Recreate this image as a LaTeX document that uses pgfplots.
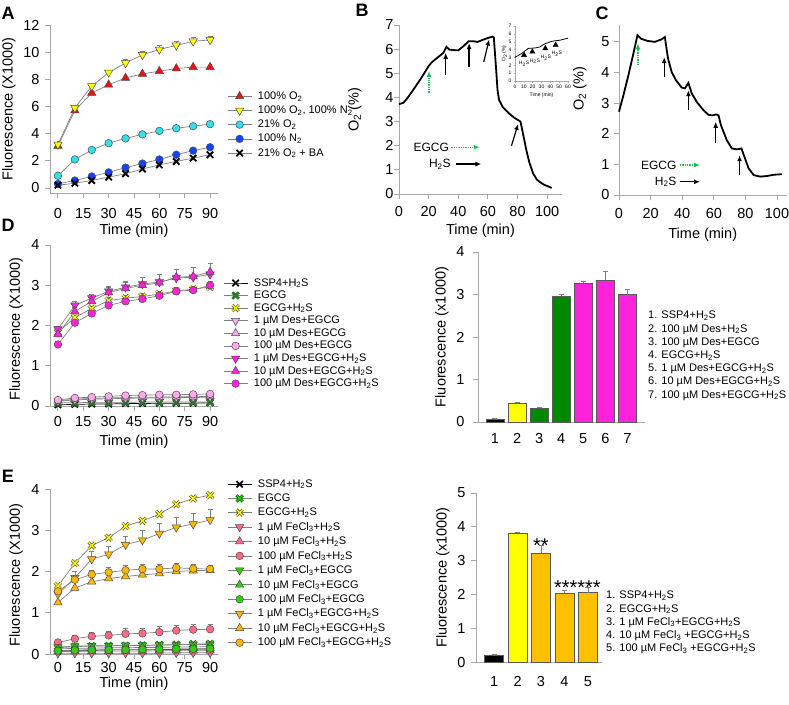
\documentclass[border=0pt]{standalone}
\usepackage{fontspec}
\setmainfont{Liberation Sans}
\usepackage{pgfplots}
\pgfplotsset{compat=1.18}
\usetikzlibrary{arrows.meta}

\definecolor{axgray}{HTML}{A8A8A8}
\definecolor{cred}{HTML}{EE1111}
\definecolor{cyel}{HTML}{FFFF00}
\definecolor{ccyan}{HTML}{33E0E8}
\definecolor{cblue}{HTML}{1144FF}
\definecolor{cmag}{HTML}{FF22DD}
\definecolor{clpink}{HTML}{FFAAEE}
\definecolor{cgreen}{HTML}{008800}
\definecolor{clgreen}{HTML}{33CC11}
\definecolor{csalmon}{HTML}{FF6A85}
\definecolor{corange}{HTML}{FFB800}
\definecolor{cgold}{HTML}{FFC000}
\definecolor{carrow}{HTML}{22BB55}

\newcommand\fs{\fontsize{14.5}{16}\selectfont}
\newcommand\fl{\fontsize{11}{13}\selectfont}
\newcommand\fb{\fontsize{11}{13.2}\selectfont}
\newcommand\fsm{\fontsize{5}{6}\selectfont}
\newcommand\fa{\fontsize{12}{14}\selectfont}
\newcommand\sub[1]{\textsubscript{#1}}

% cross marks with a dark outline
\newcommand\crosspath{%
  \pgfpathmoveto{\pgfqpoint{-.7071\pgfplotmarksize}{-.7071\pgfplotmarksize}}%
  \pgfpathlineto{\pgfqpoint{.7071\pgfplotmarksize}{.7071\pgfplotmarksize}}%
  \pgfpathmoveto{\pgfqpoint{-.7071\pgfplotmarksize}{.7071\pgfplotmarksize}}%
  \pgfpathlineto{\pgfqpoint{.7071\pgfplotmarksize}{-.7071\pgfplotmarksize}}}
\newcommand\defcross[3]{%
  \pgfdeclareplotmark{#1}{%
    \pgfsetlinewidth{2.8pt}\pgfsetstrokecolor{#2}\crosspath\pgfusepathqstroke
    \pgfsetlinewidth{1.3pt}\pgfsetstrokecolor{#3}\crosspath\pgfusepathqstroke}}
\defcross{xyel}{black!65}{cyel}
\defcross{xgrn}{cgreen!70!black}{clgreen}
\defcross{xdgr}{black!60}{cgreen}

\pgfplotsset{
  panel/.style={scale only axis, axis lines*=left,
    axis line style={-, axgray, line width=0.9pt},
    tick style={axgray, line width=0.9pt},
    tick align=outside, major tick length=5pt,
    tick label style={font=\fs}, label style={font=\fs},
    /pgf/number format/assume math mode=true, clip=false},
  lnp/.style={color=gray, line width=0.7pt,
    mark options={solid, draw=black!70, line width=0.5pt, fill=#1}},
  lnd/.style={color=gray, line width=0.7pt, mark=triangle*, mark size=4.8pt,
    mark options={solid, draw=black!70, line width=0.5pt, fill=#1, rotate=180}},
  mtri/.style={mark=triangle*, mark size=4.8pt},
  mcirc/.style={mark=*, mark size=3.8pt},
  mblk/.style={color=black, line width=0.7pt, mark=x, mark size=4.5pt,
    mark options={solid, draw=black, line width=1.8pt}},
  mx/.style={color=gray, line width=0.7pt, mark=#1, mark size=4.5pt},
  ebar/.style={error bars/.cd, y dir=plus, y explicit,
    error bar style={gray, line width=0.6pt},
    error mark options={rotate=90, gray, mark size=2.5pt, line width=0.6pt}},
  bx/.style={ybar, bar width=0.82, bar shift=0pt, draw=gray!70!black,
    line width=0.6pt, fill=#1},
  lgd/.style={legend cell align=left,
    legend style={at={#1}, anchor=north west, draw=none, fill=none, font=\fl,
      inner sep=0pt, nodes={inner sep=1pt},
      /tikz/every odd column/.append style={column sep=5pt}},
    legend image code/.code={\draw[##1, mark repeat=2, mark phase=2]
      plot coordinates {(0pt,0pt) (12pt,0pt) (24pt,0pt)};}},
}

\begin{document}
\begin{tikzpicture}
\useasboundingbox (0,0) rectangle (789pt,-704pt);

\node[font=\fontsize{18}{18}\selectfont\bfseries] at (8pt,-13pt) {A};
\node[font=\fontsize{18}{18}\selectfont\bfseries] at (362pt,-10pt) {B};
\node[font=\fontsize{18}{18}\selectfont\bfseries] at (602pt,-13pt) {C};
\node[font=\fontsize{18}{18}\selectfont\bfseries] at (8pt,-225pt) {D};
\node[font=\fontsize{18}{18}\selectfont\bfseries] at (8pt,-476pt) {E};

% ---------------- A
\begin{axis}[panel, at={(50pt,-193pt)}, anchor=south west, width=168pt, height=168pt,
  xmin=-4.7, xmax=94.7, ymin=-0.37, ymax=12,
  xtick={0,15,...,90}, ytick={0,2,...,12},
  xticklabel style={yshift=-7pt}, yticklabel style={xshift=-2pt},
  xlabel={Time (min)}, ylabel={Fluorescence (X1000)},
  xlabel style={at={(axis description cs:0.5,-0.226)}, anchor=center},
  ylabel style={at={(axis description cs:-0.245,0.5)}, anchor=center},
  lgd={(1.054,0.61)}, legend style={row sep=3pt}]
\addplot[lnp=cred, mtri] coordinates {(0,3.1)(10,5.7)(20,7.0)(30,7.6)(40,8.1)(50,8.4)(60,8.6)(70,8.8)(80,8.9)(90,8.9)};
\addlegendentry{100\% O\sub{2}}
\addplot[lnd=cyel, ebar] coordinates {(0,3.2) +- (0,0.05) (10,5.9) +- (0,0.1) (20,7.5) +- (0,0.12) (30,8.5) +- (0,0.2) (40,9.2) +- (0,0.25) (50,9.8) +- (0,0.25) (60,10.2) +- (0,0.3) (70,10.5) +- (0,0.3) (80,10.8) +- (0,0.3) (90,10.9) +- (0,0.3)};
\addlegendentry{100\% O\sub{2}, 100\% N\sub{2}}
\addplot[lnp=ccyan, mcirc] coordinates {(0,0.9)(10,2.1)(20,2.8)(30,3.3)(40,3.65)(50,3.95)(60,4.2)(70,4.4)(80,4.55)(90,4.7)};
\addlegendentry{21\% O\sub{2}}
\addplot[lnp=cblue, mcirc] coordinates {(0,0.3)(10,0.55)(20,0.85)(30,1.15)(40,1.5)(50,1.8)(60,2.1)(70,2.45)(80,2.75)(90,3.0)};
\addlegendentry{100\% N\sub{2}}
\addplot[mblk, color=gray] coordinates {(0,0.2)(10,0.35)(20,0.55)(30,0.8)(40,1.05)(50,1.4)(60,1.7)(70,1.95)(80,2.2)(90,2.45)};
\addlegendentry{21\% O\sub{2} + BA}
\end{axis}

% ---------------- B
\begin{axis}[panel, at={(399pt,-194pt)}, anchor=south west, width=163pt, height=169pt,
  xmin=0, xmax=110, ymin=0, ymax=7, xtick={0,20,...,100}, ytick={0,...,7},
  xticklabel style={yshift=-4pt}, yticklabel style={xshift=3pt},
  xlabel={Time (min)}, ylabel={O\sub{2} (\%)},
  xlabel style={at={(axis description cs:0.5,-0.219)}, anchor=center},
  ylabel style={at={(axis description cs:-0.27,0.5)}, anchor=center}]
\addplot[black, line width=1.8pt] coordinates {(0,3.72)(3,3.78)(6,4.0)(10,4.35)(15,4.8)(20,5.3)(22,5.45)(26,5.65)(30,5.85)(32,6.1)(34,5.98)(37,5.96)(40,5.95)(44,6.15)(47,6.33)(50,6.33)(53,6.3)(58,6.42)(63,6.52)(64,6.48)(65.5,5.2)(66.5,4.3)(67.5,3.9)(70,3.6)(74,3.35)(78,3.15)(82,3.0)(83,2.7)(86,1.8)(88,1.3)(90.5,0.85)(93,0.6)(95,0.5)(98,0.38)(102,0.28)(103,0.25)};
\draw[carrow, densely dotted, line width=1.3pt, -{Latex[length=6pt,width=5pt]}] (axis cs:20.3,4.2) -- (axis cs:20.3,5.1);
\draw[black, line width=1.2pt, -{Latex[length=6pt,width=5pt]}] (axis cs:31.5,4.92) -- (axis cs:31.5,5.85);
\draw[black, line width=1.2pt, -{Latex[length=6pt,width=5pt]}] (axis cs:47.3,5.27) -- (axis cs:47.3,6.25);
\draw[black, line width=1.2pt, -{Latex[length=6pt,width=5pt]}] (axis cs:57.2,5.47) -- (axis cs:60.8,6.4);
\draw[black, line width=1.2pt, -{Latex[length=6pt,width=5pt]}] (axis cs:75.9,2.0) -- (axis cs:80.4,2.9);
\node[anchor=east, font=\fa, inner sep=0pt] at (axis cs:33.8,1.94) {EGCG};
\node[anchor=east, font=\fa, inner sep=0pt] at (axis cs:35,1.24) {H\sub{2}S};
\draw[carrow, densely dotted, line width=1.3pt, -{Latex[length=6pt,width=5pt]}] (axis cs:35.4,1.94) -- (axis cs:54.5,1.94);
\draw[black, line width=1.2pt, -{Latex[length=6pt,width=5pt]}] (axis cs:38.7,1.24) -- (axis cs:55.6,1.24);
\end{axis}

% B inset
\begin{axis}[panel, at={(515pt,-81pt)}, anchor=south west, width=53pt, height=55pt,
  xmin=0, xmax=60, ymin=0, ymax=7, xtick={0,10,...,60}, ytick={0,...,7},
  major tick length=1.5pt, tick style={line width=0.4pt}, axis line style={line width=0.5pt},
  tick label style={font=\fsm}, label style={font=\fsm},
  xticklabel style={yshift=1pt}, yticklabel style={xshift=1.5pt},
  xlabel={Time (min)}, ylabel={O\sub{2} (\%)},
  xlabel style={at={(axis description cs:0.5,-0.25)}, anchor=center},
  ylabel style={at={(axis description cs:-0.2,0.5)}, anchor=center}]
\addplot[black, line width=0.8pt] coordinates {(0,3.02)(7.5,3.5)(15,4.15)(22.6,4.2)(28,4.33)(34,4.75)(41.5,5.05)(51,5.2)(60,5.45)};
\addplot[only marks, mark=triangle*, mark size=3pt, black] coordinates {(10.2,3.3)(19.6,3.73)(34.3,4.15)(46,4.58)};
\node[font=\fsm, inner sep=0pt] at (axis cs:10.2,2.16) {H\sub{2}S};
\node[font=\fsm, inner sep=0pt] at (axis cs:22.6,2.5) {H\sub{2}S};
\node[font=\fsm, inner sep=0pt] at (axis cs:35,2.97) {H\sub{2}S};
\node[font=\fsm, inner sep=0pt] at (axis cs:47.5,3.44) {H\sub{2}S};
\end{axis}

% ---------------- C
\begin{axis}[panel, at={(619pt,-195pt)}, anchor=south west, width=167.5pt, height=170pt,
  xmin=0, xmax=106, ymin=0, ymax=5.55, xtick={0,20,...,100}, ytick={0,...,5},
  xticklabel style={yshift=-5pt}, yticklabel style={xshift=-1pt},
  xlabel={Time (min)}, ylabel={O\sub{2} (\%)},
  xlabel style={at={(axis description cs:0.5,-0.235)}, anchor=center},
  ylabel style={at={(axis description cs:-0.233,0.626)}, anchor=center}]
\addplot[black, line width=1.8pt] coordinates {(0,2.72)(2.5,3.2)(5.7,3.86)(8.9,4.57)(11.7,5.22)(14,5.1)(18,5.03)(22.7,5.0)(26.9,5.08)(29,5.16)(31,4.46)(33.3,4.02)(36,3.75)(39.6,3.51)(41.7,3.48)(43.9,3.66)(46,3.32)(49.2,3.04)(53.4,2.77)(56.6,2.62)(59,2.6)(61.5,2.63)(63,2.6)(64.5,2.28)(68.2,1.79)(71.4,1.52)(74.6,1.49)(77.5,1.52)(79,1.3)(82,0.87)(85.2,0.65)(89.4,0.6)(93.6,0.62)(97.9,0.66)(103,0.68)};
\draw[carrow, densely dotted, line width=1.3pt, -{Latex[length=6pt,width=5pt]}] (axis cs:12,4.24) -- (axis cs:12,4.95);
\draw[black, line width=1.2pt, -{Latex[length=6pt,width=5pt]}] (axis cs:28.6,3.86) -- (axis cs:28.6,4.5);
\draw[black, line width=1.2pt, -{Latex[length=6pt,width=5pt]}] (axis cs:43.9,2.77) -- (axis cs:43.9,3.42);
\draw[black, line width=1.2pt, -{Latex[length=6pt,width=5pt]}] (axis cs:61.2,1.7) -- (axis cs:61.2,2.39);
\draw[black, line width=1.2pt, -{Latex[length=6pt,width=5pt]}] (axis cs:76.3,0.65) -- (axis cs:76.3,1.3);
\node[anchor=east, font=\fa, inner sep=0pt] at (axis cs:36.5,0.98) {EGCG};
\node[anchor=east, font=\fa, inner sep=0pt] at (axis cs:36.5,0.43) {H\sub{2}S};
\draw[carrow, densely dotted, line width=1.3pt, -{Latex[length=6pt,width=5pt]}] (axis cs:38.6,0.98) -- (axis cs:51.3,0.98);
\draw[black, line width=1.2pt, -{Latex[length=6pt,width=5pt]}] (axis cs:38.6,0.43) -- (axis cs:51.3,0.43);
\end{axis}

% ---------------- D left
\begin{axis}[panel, at={(50pt,-406pt)}, anchor=south west, width=168pt, height=161pt,
  xmin=-4.7, xmax=94.7, ymin=0, ymax=4,
  xtick={0,15,...,90}, ytick={0,...,4},
  xticklabel style={yshift=-2pt}, yticklabel style={xshift=-2pt},
  xlabel={Time (min)}, ylabel={Fluorescence (X1000)},
  xlabel style={at={(axis description cs:0.5,-0.224)}, anchor=center},
  ylabel style={at={(axis description cs:-0.202,0.478)}, anchor=center},
  lgd={(1.03,0.80)}, legend style={row sep=1.4pt}]
\addplot[mblk] coordinates {(0,0.03)(10,0.04)(20,0.05)(30,0.05)(40,0.06)(50,0.06)(60,0.07)(70,0.07)(80,0.07)(90,0.08)};
\addlegendentry{SSP4+H\sub{2}S}
\addplot[mx=xdgr] coordinates {(0,0.08)(10,0.08)(20,0.09)(30,0.09)(40,0.09)(50,0.1)(60,0.1)(70,0.1)(80,0.1)(90,0.1)};
\addlegendentry{EGCG}
\addplot[mx=xyel, ebar] coordinates {(0,1.83) +- (0,0.05) (10,2.2) +- (0,0.06) (20,2.42) +- (0,0.06) (30,2.62) +- (0,0.07) (40,2.68) +- (0,0.07) (50,2.72) +- (0,0.08) (60,2.78) +- (0,0.08) (70,2.86) +- (0,0.08) (80,2.9) +- (0,0.08) (90,2.96) +- (0,0.08)};
\addlegendentry{EGCG+H\sub{2}S}
\addplot[lnd=clpink] coordinates {(0,0.12)(10,0.15)(20,0.17)(30,0.18)(40,0.19)(50,0.2)(60,0.2)(70,0.21)(80,0.21)(90,0.22)};
\addlegendentry{1 µM Des+EGCG}
\addplot[lnp=clpink, mtri] coordinates {(0,0.13)(10,0.17)(20,0.19)(30,0.2)(40,0.21)(50,0.22)(60,0.22)(70,0.23)(80,0.23)(90,0.24)};
\addlegendentry{10 µM Des+EGCG}
\addplot[lnp=clpink, mcirc] coordinates {(0,0.15)(10,0.2)(20,0.22)(30,0.24)(40,0.26)(50,0.27)(60,0.28)(70,0.28)(80,0.29)(90,0.3)};
\addlegendentry{100 µM Des+EGCG}
\addplot[lnd=cmag, ebar] coordinates {(0,1.91) +- (0,0.08) (10,2.5) +- (0,0.1) (20,2.68) +- (0,0.1) (30,2.85) +- (0,0.12) (40,2.95) +- (0,0.15) (50,3.03) +- (0,0.18) (60,3.08) +- (0,0.2) (70,3.18) +- (0,0.22) (80,3.2) +- (0,0.25) (90,3.27) +- (0,0.27)};
\addlegendentry{1 µM Des+EGCG+H\sub{2}S}
\addplot[lnp=cmag, mtri, ebar] coordinates {(0,1.78) +- (0,0.08) (10,2.35) +- (0,0.1) (20,2.6) +- (0,0.12) (30,2.82) +- (0,0.12) (40,2.92) +- (0,0.15) (50,3.0) +- (0,0.2) (60,3.06) +- (0,0.2) (70,3.2) +- (0,0.2) (80,3.22) +- (0,0.22) (90,3.33) +- (0,0.22)};
\addlegendentry{10 µM Des+EGCG+H\sub{2}S}
\addplot[lnp=cmag, mcirc, ebar] coordinates {(0,1.53) +- (0,0.04) (10,2.07) +- (0,0.05) (20,2.3) +- (0,0.06) (30,2.5) +- (0,0.06) (40,2.6) +- (0,0.07) (50,2.66) +- (0,0.07) (60,2.74) +- (0,0.08) (70,2.85) +- (0,0.08) (80,2.88) +- (0,0.08) (90,3.0) +- (0,0.1)};
\addlegendentry{100 µM Des+EGCG+H\sub{2}S}
\end{axis}

% ---------------- D bars
\begin{axis}[panel, at={(478pt,-422pt)}, anchor=south west, width=167pt, height=170pt,
  xmin=0.23, xmax=7.8, ymin=0, ymax=4, xtick={1,...,7}, ytick={0,...,4},
  xtick style={draw=none},
  xticklabel style={yshift=-3pt}, yticklabel style={xshift=-5pt},
  ylabel={Fluorescence (x1000)},
  ylabel style={at={(axis description cs:-0.216,0.5)}, anchor=center}]
\addplot[bx=black, ebar] coordinates {(1,0.07) +- (0,0.01)};
\addplot[bx=cyel, ebar] coordinates {(2,0.43) +- (0,0.04)};
\addplot[bx=cgreen, ebar] coordinates {(3,0.32) +- (0,0.03)};
\addplot[bx=cgreen, ebar] coordinates {(4,2.96) +- (0,0.05)};
\addplot[bx=cmag, ebar] coordinates {(5,3.27) +- (0,0.05)};
\addplot[bx=cmag, ebar] coordinates {(6,3.33) +- (0,0.22)};
\addplot[bx=cmag, ebar] coordinates {(7,3.0) +- (0,0.12)};
\end{axis}
\node[anchor=north west, align=left, font=\fb, inner sep=0pt] at (648pt,-311pt)
  {1. SSP4+H\sub{2}S\\2. 100 µM Des+H\sub{2}S\\3. 100 µM Des+EGCG\\4. EGCG+H\sub{2}S\\5. 1 µM Des+EGCG+H\sub{2}S\\6. 10 µM Des+EGCG+H\sub{2}S\\7. 100 µM Des+EGCG+H\sub{2}S};

% ---------------- E left
\begin{axis}[panel, at={(50pt,-654pt)}, anchor=south west, width=168pt, height=165pt,
  xmin=-4.7, xmax=94.7, ymin=0, ymax=4,
  xtick={0,15,...,90}, ytick={0,...,4},
  xticklabel style={yshift=0pt}, yticklabel style={xshift=-2pt},
  xlabel={Time (min)}, ylabel={Fluorescence (X1000)},
  xlabel style={at={(axis description cs:0.5,-0.182)}, anchor=center},
  ylabel style={at={(axis description cs:-0.202,0.48)}, anchor=center},
  lgd={(1.054,1.064)}, legend style={row sep=3pt}]
\addplot[mblk] coordinates {(0,0.08)(10,0.09)(20,0.09)(30,0.1)(40,0.1)(50,0.1)(60,0.11)(70,0.11)(80,0.12)(90,0.12)};
\addlegendentry{SSP4+H\sub{2}S}
\addplot[mx=xgrn] coordinates {(0,0.15)(10,0.18)(20,0.19)(30,0.2)(40,0.2)(50,0.21)(60,0.22)(70,0.23)(80,0.24)(90,0.25)};
\addlegendentry{EGCG}
\addplot[mx=xyel, ebar] coordinates {(0,1.65) +- (0,0.04) (10,2.2) +- (0,0.04) (20,2.63) +- (0,0.04) (30,2.82) +- (0,0.04) (40,3.1) +- (0,0.04) (50,3.23) +- (0,0.04) (60,3.39) +- (0,0.04) (70,3.63) +- (0,0.04) (80,3.77) +- (0,0.04) (90,3.85) +- (0,0.04)};
\addlegendentry{EGCG+H\sub{2}S}
\addplot[lnd=csalmon] coordinates {(0,0.02)(10,0.02)(20,0.02)(30,0.02)(40,0.02)(50,0.02)(60,0.02)(70,0.03)(80,0.03)(90,0.03)};
\addlegendentry{1 µM FeCl\sub{3}+H\sub{2}S}
\addplot[lnp=csalmon, mtri] coordinates {(0,0.06)(10,0.06)(20,0.07)(30,0.07)(40,0.07)(50,0.07)(60,0.08)(70,0.08)(80,0.08)(90,0.08)};
\addlegendentry{10 µM FeCl\sub{3}+H\sub{2}S}
\addplot[lnp=csalmon, mcirc, ebar] coordinates {(0,0.28) +- (0,0.05) (10,0.37) +- (0,0.08) (20,0.43) +- (0,0.1) (30,0.45) +- (0,0.1) (40,0.49) +- (0,0.13) (50,0.5) +- (0,0.12) (60,0.53) +- (0,0.13) (70,0.57) +- (0,0.12) (80,0.59) +- (0,0.13) (90,0.6) +- (0,0.13)};
\addlegendentry{100 µM FeCl\sub{3}+H\sub{2}S}
\addplot[lnd=clgreen] coordinates {(0,0.17)(10,0.19)(20,0.2)(30,0.2)(40,0.21)(50,0.21)(60,0.22)(70,0.22)(80,0.23)(90,0.23)};
\addlegendentry{1 µM FeCl\sub{3}+EGCG}
\addplot[lnp=clgreen, mtri] coordinates {(0,0.12)(10,0.14)(20,0.14)(30,0.15)(40,0.15)(50,0.16)(60,0.16)(70,0.17)(80,0.17)(90,0.18)};
\addlegendentry{10 µM FeCl\sub{3}+EGCG}
\addplot[lnp=clgreen, mcirc] coordinates {(0,0.08)(10,0.09)(20,0.1)(30,0.1)(40,0.1)(50,0.11)(60,0.11)(70,0.12)(80,0.12)(90,0.13)};
\addlegendentry{100 µM FeCl\sub{3}+EGCG}
\addplot[lnd=corange, ebar] coordinates {(0,1.45) +- (0,0.05) (10,1.85) +- (0,0.15) (20,2.3) +- (0,0.18) (30,2.42) +- (0,0.2) (40,2.65) +- (0,0.2) (50,2.76) +- (0,0.24) (60,2.92) +- (0,0.25) (70,3.07) +- (0,0.25) (80,3.15) +- (0,0.25) (90,3.25) +- (0,0.25)};
\addlegendentry{1 µM FeCl\sub{3}+EGCG+H\sub{2}S}
\addplot[lnp=corange, mtri] coordinates {(0,1.25)(10,1.6)(20,1.75)(30,1.83)(40,1.88)(50,1.92)(60,1.95)(70,2.0)(80,2.02)(90,2.03)};
\addlegendentry{10 µM FeCl\sub{3}+EGCG+H\sub{2}S}
\addplot[lnp=corange, mcirc, ebar] coordinates {(0,1.52) +- (0,0.05) (10,1.8) +- (0,0.1) (20,1.93) +- (0,0.1) (30,1.98) +- (0,0.12) (40,2.03) +- (0,0.12) (50,2.06) +- (0,0.12) (60,2.06) +- (0,0.12) (70,2.09) +- (0,0.12) (80,2.07) +- (0,0.1) (90,2.06) +- (0,0.1)};
\addlegendentry{100 µM FeCl\sub{3}+EGCG+H\sub{2}S}
\end{axis}

% ---------------- E bars
\begin{axis}[panel, at={(476pt,-662pt)}, anchor=south west, width=126pt, height=169pt,
  xmin=0.23, xmax=5.6, ymin=0, ymax=5, xtick={1,...,5}, ytick={0,...,5},
  xtick style={draw=none},
  xticklabel style={yshift=-6pt}, yticklabel style={xshift=-2pt},
  ylabel={Fluorescence (x1000)},
  ylabel style={at={(axis description cs:-0.262,0.5)}, anchor=center}]
\addplot[bx=black, ebar] coordinates {(1,0.2) +- (0,0.02)};
\addplot[bx=cyel, ebar] coordinates {(2,3.82) +- (0,0.03)};
\addplot[bx=cgold, ebar] coordinates {(3,3.22) +- (0,0.22)};
\addplot[bx=cgold, ebar] coordinates {(4,2.03) +- (0,0.08)};
\addplot[bx=cgold, ebar] coordinates {(5,2.05) +- (0,0.15)};
\node[anchor=base, font=\fontsize{20}{20}\selectfont, inner sep=0pt] at (axis cs:3,3.25) {**};
\node[anchor=base, font=\fontsize{20}{20}\selectfont, inner sep=0pt] at (axis cs:4.55,2.01) {******};
\end{axis}
\node[anchor=north west, align=left, font=\fb, inner sep=0pt] at (606pt,-591pt)
  {1. SSP4+H\sub{2}S\\2. EGCG+H\sub{2}S\\3. 1 µM FeCl\sub{3}+EGCG+H\sub{2}S\\4. 10 µM FeCl\sub{3} +EGCG+H\sub{2}S\\5. 100 µM FeCl\sub{3} +EGCG+H\sub{2}S};

\end{tikzpicture}
\end{document}
